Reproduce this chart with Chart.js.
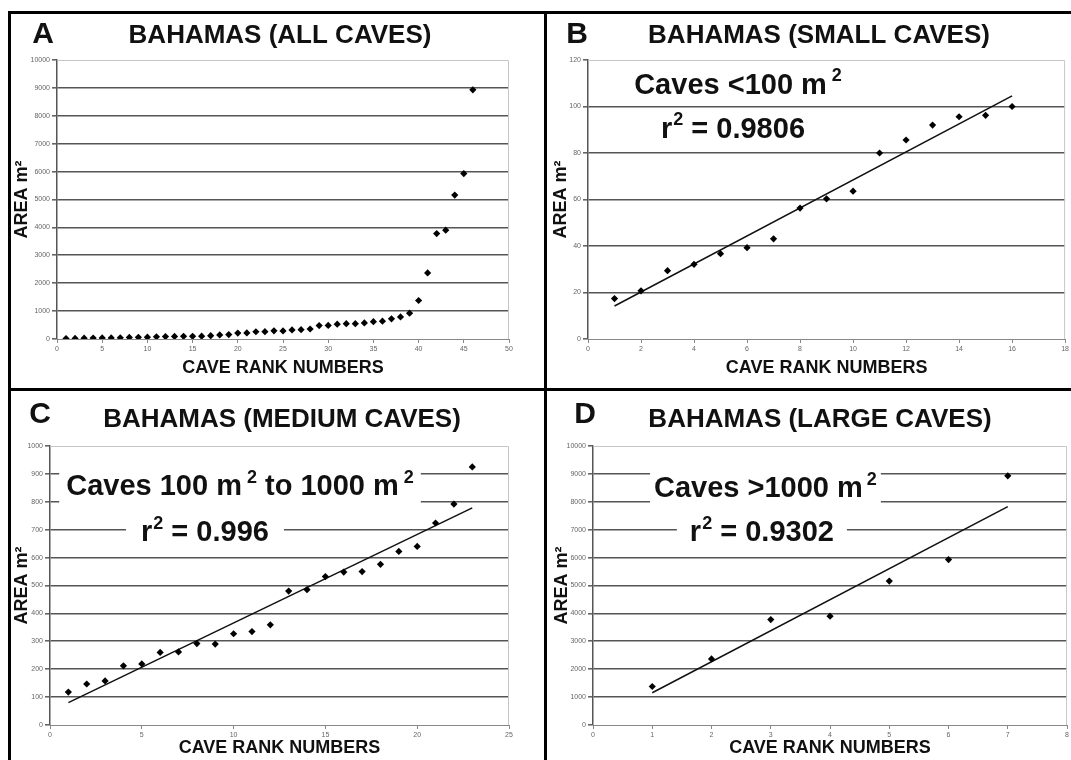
<!DOCTYPE html>
<html>
<head>
<meta charset="utf-8">
<script src="https://cdn.jsdelivr.net/npm/chart.js@4.4.0/dist/chart.umd.min.js"></script>
<style>
  body { margin: 0; background: #fff; width: 1071px; height: 760px; overflow: hidden; position: relative; }
  .rule { position: absolute; background: #000; }
  .cell { position: absolute; }
  canvas { display: block; }
</style>
</head>
<body>
<div class="rule" style="left:8px;top:11px;width:1063px;height:3px"></div>
<div class="rule" style="left:8px;top:11px;width:3px;height:749px"></div>
<div class="rule" style="left:544px;top:11px;width:3px;height:749px"></div>
<div class="rule" style="left:8px;top:388px;width:1063px;height:3px"></div>

<div class="cell" style="left:11px;top:14px"><canvas id="chartA" width="533" height="374"></canvas></div>
<div class="cell" style="left:547px;top:14px"><canvas id="chartB" width="524" height="374"></canvas></div>
<div class="cell" style="left:11px;top:391px"><canvas id="chartC" width="533" height="369"></canvas></div>
<div class="cell" style="left:547px;top:391px"><canvas id="chartD" width="524" height="369"></canvas></div>

<script>
// cave areas (m2) by rank
const allRanks = [1, 2, 3, 4, 5, 6, 7, 8, 9, 10, 11, 12, 13, 14, 15, 16, 17, 18, 19, 20, 21, 22, 23,
  24, 25, 26, 27, 28, 29, 30, 31, 32, 33, 34, 35, 36, 37, 38, 39, 40, 41, 42, 43, 44, 45, 46];
const allArea = [17, 21, 29, 32, 37, 39, 43, 56, 60, 64, 80, 86, 92, 96, 96, 100,
  118, 147, 158, 212, 219, 260, 262, 292, 290, 327, 335, 359, 480, 485, 532, 548, 550, 576, 622, 640, 724, 792, 925,
  1380, 2370, 3780, 3900, 5160, 5930, 8930];

const smallRanks = [1, 2, 3, 4, 5, 6, 7, 8, 9, 10, 11, 12, 13, 14, 15, 16];
const smallArea = [17.4, 20.7, 29.4, 32.1, 36.7, 39.3, 43.1, 56.3, 60.3, 63.6, 80, 85.6, 92, 95.6, 96.2, 100];

const mediumRanks = [1, 2, 3, 4, 5, 6, 7, 8, 9, 10, 11, 12, 13, 14, 15, 16, 17, 18, 19, 20, 21, 22, 23];
const mediumArea = [118, 147, 158, 212, 219, 260, 262, 292, 290, 327, 335, 359, 480, 485, 532, 548, 550, 576, 622, 640, 724, 792, 925];

const largeRanks = [1, 2, 3, 4, 5, 6, 7];
const largeArea = [1380, 2370, 3780, 3900, 5160, 5930, 8930];

// trend line ends (rank, area)
const smallTrendRanks = [1, 16];
const smallTrendArea = [14.2, 104.6];
const mediumTrendRanks = [1, 23];
const mediumTrendArea = [80, 778];
const largeTrendRanks = [1, 7];
const largeTrendArea = [1156, 7830];

const FONT = '"Liberation Sans", Arial, Helvetica, sans-serif';

function toPoints(xs, ys) {
  return xs.map((x, i) => ({x: x, y: ys[i]}));
}

// draws text made of normal and superscript parts, centred on cx
function richText(ctx, parts, cx, cy, size) {
  const supSize = Math.round(size * 0.62);
  let w = 0;
  parts.forEach(p => {
    ctx.font = 'bold ' + (p.sup ? supSize : size) + 'px ' + FONT;
    p.w = ctx.measureText(p.t).width;
    w += p.w + (p.gap || 0);
  });
  let x = cx - w / 2;
  parts.forEach(p => {
    x += p.gap || 0;
    ctx.font = 'bold ' + (p.sup ? supSize : size) + 'px ' + FONT;
    ctx.fillText(p.t, x, p.sup ? cy - size * 0.32 : cy);
    x += p.w;
  });
  return w;
}

const panelDecor = {
  id: 'panelDecor',
  beforeDatasetsDraw(chart) {
    const ctx = chart.ctx, a = chart.chartArea;
    ctx.save();
    ctx.strokeStyle = '#c6c6c6';
    ctx.lineWidth = 1;
    ctx.beginPath();
    ctx.moveTo(a.left, a.top + 0.5);
    ctx.lineTo(a.right - 0.5, a.top + 0.5);
    ctx.lineTo(a.right - 0.5, a.bottom);
    ctx.stroke();
    ctx.restore();
  },
  afterDraw(chart, args, opts) {
    const ctx = chart.ctx;
    ctx.save();
    ctx.fillStyle = '#111';
    ctx.textBaseline = 'middle';
    ctx.textAlign = 'center';
    ctx.font = 'bold 30px ' + FONT;
    ctx.fillText(opts.letter, opts.letterX, opts.letterY);
    ctx.font = 'bold 26px ' + FONT;
    ctx.fillText(opts.title, opts.titleX, opts.titleY);

    ctx.textAlign = 'left';
    const xs = chart.scales.x, ys = chart.scales.y;
    (opts.notes || []).forEach(n => {
      const cx = xs.getPixelForValue(n.x);
      const cy = ys.getPixelForValue(n.y);
      ctx.save();
      ctx.globalAlpha = 0;
      const w = richText(ctx, n.parts, cx, cy, 29);
      ctx.restore();
      if (n.padX !== undefined) {
        ctx.fillStyle = '#fff';
        ctx.fillRect(cx - w / 2 - n.padX, cy - 18, w + 2 * n.padX, 36);
      }
      ctx.fillStyle = '#111';
      richText(ctx, n.parts, cx, cy, 29);
    });
    ctx.restore();
  }
};

function makeChart(id, p) {
  const datasets = [{
    data: toPoints(p.ranks, p.area),
    pointStyle: 'rectRot',
    pointRadius: 3.6,
    backgroundColor: '#000',
    borderWidth: 0
  }];
  if (p.trendRanks) {
    datasets.push({
      data: toPoints(p.trendRanks, p.trendArea),
      showLine: true,
      pointRadius: 0,
      borderColor: '#111',
      borderWidth: 1.5
    });
  }
  return new Chart(document.getElementById(id), {
    type: 'scatter',
    data: {datasets: datasets},
    options: {
      responsive: false,
      animation: false,
      events: [],
      layout: {autoPadding: false, padding: {top: p.top, right: p.right, left: 0, bottom: 0}},
      plugins: {
        legend: {display: false},
        tooltip: {enabled: false},
        panelDecor: p.decor
      },
      scales: {
        x: {
          type: 'linear',
          min: 0, max: p.xMax,
          afterFit: s => { s.height = p.xAxisH; },
          border: {color: '#888', width: 1},
          grid: {drawOnChartArea: false, drawTicks: true, tickLength: 4, color: '#888'},
          ticks: {stepSize: p.xStep, padding: 2, color: '#666', font: {family: FONT, size: 7}},
          title: {display: true, text: 'CAVE RANK NUMBERS', color: '#111',
            font: {family: FONT, size: 18, weight: 'bold'}, padding: {top: 0, bottom: p.xTitlePad}}
        },
        y: {
          min: 0, max: p.yMax,
          afterFit: s => { s.width = p.yAxisW; },
          border: {color: '#555', width: 1.5},
          grid: {
            tickLength: 5,
            lineWidth: 1.6,
            color: c => (c.tick.value === 0 || c.tick.value === p.yMax) ? 'rgba(0,0,0,0)' : '#555',
            tickColor: '#666'
          },
          ticks: {stepSize: p.yStep, padding: 2, color: '#666', font: {family: FONT, size: 7},
            callback: v => String(v)},
          title: {display: true, text: 'AREA m²', color: '#111',
            font: {family: FONT, size: 18, weight: 'bold'}, padding: {top: p.yTitlePad, bottom: 0}}
        }
      }
    },
    plugins: [panelDecor]
  });
}

makeChart('chartA', {
  ranks: allRanks, area: allArea,
  xMax: 50, xStep: 5, yMax: 10000, yStep: 1000,
  top: 46, right: 35, yAxisW: 46, xAxisH: 49, xTitlePad: 9, yTitlePad: 0,
  decor: {letter: 'A', letterX: 32, letterY: 21, title: 'BAHAMAS (ALL CAVES)', titleX: 269, titleY: 22}
});

makeChart('chartB', {
  ranks: smallRanks, area: smallArea, trendRanks: smallTrendRanks, trendArea: smallTrendArea,
  xMax: 18, xStep: 2, yMax: 120, yStep: 20,
  top: 46, right: 3, yAxisW: 41, xAxisH: 49, xTitlePad: 9, yTitlePad: 3,
  decor: {
    letter: 'B', letterX: 30, letterY: 21, title: 'BAHAMAS (SMALL CAVES)', titleX: 272, titleY: 22,
    notes: [
      {x: 5.66, y: 109, parts: [{t: 'Caves <100 m'}, {t: '2', sup: true, gap: 5}]},
      {x: 5.47, y: 90, parts: [{t: 'r'}, {t: '2', sup: true, gap: 1}, {t: ' = 0.9806'}]}
    ]
  }
});

makeChart('chartC', {
  ranks: mediumRanks, area: mediumArea, trendRanks: mediumTrendRanks, trendArea: mediumTrendArea,
  xMax: 25, xStep: 5, yMax: 1000, yStep: 100,
  top: 55, right: 35, yAxisW: 39, xAxisH: 35, xTitlePad: 1, yTitlePad: 0,
  decor: {
    letter: 'C', letterX: 29, letterY: 24, title: 'BAHAMAS (MEDIUM CAVES)', titleX: 271, titleY: 29,
    notes: [
      {x: 10.35, y: 852, padX: 7, parts: [{t: 'Caves 100 m'}, {t: '2', sup: true, gap: 5},
        {t: ' to 1000 m'}, {t: '2', sup: true, gap: 5}]},
      {x: 8.44, y: 688, padX: 15, parts: [{t: 'r'}, {t: '2', sup: true, gap: 1}, {t: ' = 0.996'}]}
    ]
  }
});

makeChart('chartD', {
  ranks: largeRanks, area: largeArea, trendRanks: largeTrendRanks, trendArea: largeTrendArea,
  xMax: 8, xStep: 1, yMax: 10000, yStep: 1000,
  top: 55, right: 3, yAxisW: 46, xAxisH: 35, xTitlePad: 1, yTitlePad: 4,
  decor: {
    letter: 'D', letterX: 38, letterY: 24, title: 'BAHAMAS (LARGE CAVES)', titleX: 273, titleY: 29,
    notes: [
      {x: 2.91, y: 8450, padX: 4, parts: [{t: 'Caves >1000 m'}, {t: '2', sup: true, gap: 4}]},
      {x: 2.85, y: 6874, padX: 13, parts: [{t: 'r'}, {t: '2', sup: true, gap: 1}, {t: ' = 0.9302'}]}
    ]
  }
});
</script>
</body>
</html>
